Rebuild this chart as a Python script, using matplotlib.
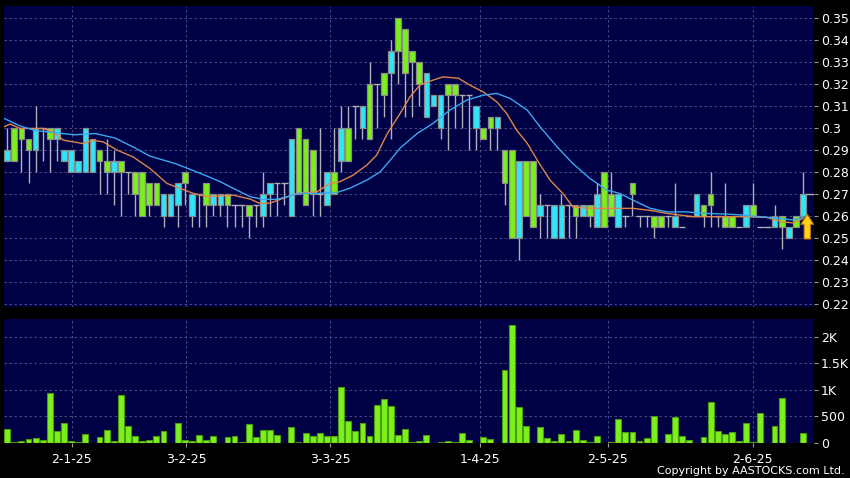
import matplotlib
matplotlib.use("Agg")
import matplotlib.pyplot as plt
from matplotlib.ticker import FuncFormatter

# Candles (one per trading day, in order)
opens = [0.285, 0.30, 0.30, 0.295, 0.29, 0.30, 0.30, 0.295, 0.285, 0.28,
         0.28, 0.28, 0.28, 0.29, 0.285, 0.28, 0.285, 0.28, 0.28, 0.28,
         0.275, 0.275, 0.26, 0.26, 0.265, 0.28, 0.26, 0.27, 0.275, 0.265,
         0.265, 0.27, 0.265, 0.265, 0.265, 0.265, 0.26, 0.27, 0.275, 0.275,
         0.26, 0.30, 0.295, 0.29, 0.27, 0.265, 0.28, 0.285, 0.30, 0.31,
         0.30, 0.32, 0.32, 0.325, 0.325, 0.35, 0.345, 0.335, 0.33, 0.305,
         0.31, 0.30, 0.32, 0.32, 0.315, 0.315, 0.30, 0.30, 0.305, 0.30,
         0.29, 0.29, 0.25, 0.285, 0.285, 0.26, 0.265, 0.25, 0.25, 0.265,
         0.265, 0.26, 0.265, 0.255, 0.28, 0.27, 0.255, 0.26, 0.275, 0.26,
         0.26, 0.26, 0.26, 0.26, 0.255, 0.255, 0.26, 0.26, 0.265, 0.27,
         0.26, 0.26, 0.26, 0.255, 0.255, 0.265, 0.255, 0.255, 0.255, 0.26,
         0.25, 0.26, 0.26]
closes = [0.29, 0.285, 0.295, 0.29, 0.30, 0.30, 0.295, 0.30, 0.29, 0.29,
          0.285, 0.30, 0.295, 0.285, 0.28, 0.285, 0.28, 0.28, 0.27, 0.26,
          0.265, 0.265, 0.27, 0.27, 0.275, 0.275, 0.27, 0.27, 0.265, 0.27,
          0.27, 0.265, 0.265, 0.265, 0.26, 0.265, 0.27, 0.275, 0.275, 0.275,
          0.295, 0.27, 0.265, 0.27, 0.27, 0.28, 0.27, 0.30, 0.285, 0.31,
          0.31, 0.295, 0.32, 0.315, 0.335, 0.335, 0.325, 0.33, 0.32, 0.325,
          0.315, 0.315, 0.315, 0.315, 0.315, 0.315, 0.31, 0.295, 0.30, 0.305,
          0.275, 0.25, 0.285, 0.26, 0.255, 0.265, 0.265, 0.265, 0.265, 0.265,
          0.26, 0.265, 0.26, 0.27, 0.255, 0.26, 0.27, 0.26, 0.27, 0.26,
          0.26, 0.255, 0.255, 0.26, 0.26, 0.255, 0.26, 0.27, 0.26, 0.265,
          0.26, 0.255, 0.255, 0.255, 0.265, 0.26, 0.255, 0.255, 0.26, 0.255,
          0.255, 0.255, 0.27]
highs = [0.30, 0.30, 0.30, 0.295, 0.31, 0.30, 0.30, 0.30, 0.29, 0.29,
         0.285, 0.30, 0.295, 0.29, 0.295, 0.29, 0.285, 0.28, 0.28, 0.28,
         0.275, 0.275, 0.27, 0.27, 0.275, 0.28, 0.27, 0.27, 0.275, 0.27,
         0.27, 0.27, 0.265, 0.265, 0.265, 0.265, 0.28, 0.275, 0.275, 0.275,
         0.295, 0.30, 0.295, 0.29, 0.30, 0.28, 0.30, 0.31, 0.31, 0.31,
         0.31, 0.33, 0.32, 0.325, 0.34, 0.35, 0.345, 0.335, 0.33, 0.325,
         0.315, 0.315, 0.32, 0.32, 0.315, 0.315, 0.31, 0.30, 0.305, 0.305,
         0.29, 0.29, 0.285, 0.285, 0.285, 0.27, 0.265, 0.265, 0.27, 0.265,
         0.265, 0.265, 0.265, 0.275, 0.28, 0.28, 0.27, 0.26, 0.275, 0.26,
         0.26, 0.26, 0.26, 0.26, 0.275, 0.255, 0.26, 0.27, 0.265, 0.28,
         0.26, 0.275, 0.26, 0.255, 0.265, 0.275, 0.255, 0.255, 0.265, 0.26,
         0.255, 0.26, 0.28]
lows = [0.285, 0.285, 0.28, 0.275, 0.28, 0.285, 0.28, 0.285, 0.285, 0.28,
        0.28, 0.28, 0.28, 0.27, 0.27, 0.265, 0.26, 0.27, 0.26, 0.26,
        0.26, 0.265, 0.255, 0.26, 0.255, 0.265, 0.255, 0.255, 0.255, 0.26,
        0.26, 0.255, 0.255, 0.255, 0.25, 0.255, 0.255, 0.26, 0.26, 0.265,
        0.26, 0.27, 0.265, 0.26, 0.26, 0.265, 0.27, 0.28, 0.285, 0.295,
        0.295, 0.295, 0.30, 0.305, 0.295, 0.32, 0.305, 0.305, 0.31, 0.305,
        0.31, 0.295, 0.29, 0.30, 0.30, 0.29, 0.29, 0.295, 0.29, 0.29,
        0.265, 0.25, 0.24, 0.26, 0.255, 0.25, 0.25, 0.25, 0.25, 0.25,
        0.25, 0.26, 0.255, 0.255, 0.255, 0.26, 0.255, 0.255, 0.26, 0.255,
        0.255, 0.25, 0.255, 0.255, 0.255, 0.255, 0.26, 0.26, 0.255, 0.255,
        0.255, 0.255, 0.255, 0.255, 0.255, 0.26, 0.255, 0.255, 0.255, 0.245,
        0.25, 0.255, 0.26]
volumes = [260, 20, 45, 80, 100, 60, 940, 230, 375, 40,
           12, 175, 5, 120, 245, 40, 905, 325, 130, 30,
           50, 130, 230, 0, 375, 50, 30, 155, 60, 135,
           0, 120, 135, 20, 355, 105, 245, 245, 150, 0,
           295, 20, 195, 140, 180, 125, 125, 1055, 420, 220,
           370, 140, 720, 820, 690, 145, 260, 12, 40, 150,
           0, 20, 45, 20, 180, 55, 0, 120, 75, 0,
           1375, 2220, 680, 320, 5, 305, 100, 40, 160, 40,
           250, 60, 10, 125, 0, 20, 450, 210, 210, 40,
           100, 505, 5, 165, 495, 130, 60, 0, 110, 775,
           230, 160, 210, 40, 370, 20, 555, 0, 325, 850,
           0, 0, 190]

# Moving averages: (day index, value)
ma_short_idx = [-0.45, 0.4, 1.8, 5.0, 6.4, 7.9, 10.7, 11.9, 13.5, 15.5,
                17.7, 20.1, 22.5, 24.3, 26.2, 28.1, 31.8, 34.2, 35.6, 37.0,
                38.8, 40.8, 43.6, 45.4, 46.8, 48.7, 50.6, 52.0, 53.5, 55.3,
                56.7, 58.1, 59.9, 61.3, 63.5, 65.1, 67.0, 68.9, 70.3, 71.7,
                73.2, 74.6, 76.4, 78.2, 79.6, 81.6, 83.4, 88.1, 90.9, 92.9,
                96.5, 103.6, 106.9, 109.1, 110.6, 112.0]
ma_short = [0.3006, 0.3019, 0.2999, 0.2999, 0.2984, 0.2946, 0.2930, 0.2946, 0.2938, 0.2900,
            0.2870, 0.2817, 0.2749, 0.2727, 0.2704, 0.2689, 0.2696, 0.2678, 0.2658, 0.2660,
            0.2681, 0.2704, 0.2711, 0.2749, 0.2757, 0.2787, 0.2832, 0.2878, 0.2976, 0.3067,
            0.3143, 0.3196, 0.3218, 0.3233, 0.3227, 0.3196, 0.3165, 0.3120, 0.3067, 0.2991,
            0.2931, 0.2855, 0.2764, 0.2704, 0.2643, 0.2637, 0.2636, 0.2636, 0.2625, 0.2613,
            0.2598, 0.2598, 0.2595, 0.2575, 0.2570, 0.2590]
ma_long_idx = [-0.45, 1.8, 3.9, 7.4, 9.5, 12.4, 15.2, 18.0, 20.1, 23.6,
               27.1, 30.0, 31.8, 34.2, 36.0, 38.0, 39.5, 41.2, 43.6, 46.4,
               48.2, 50.6, 52.5, 54.3, 55.3, 57.7, 59.9, 62.3, 64.7, 67.0,
               68.9, 70.8, 73.2, 75.0, 77.4, 79.6, 82.0, 84.4, 86.2, 88.1,
               90.5, 92.9, 95.7, 97.5, 101.3, 103.6, 106.0, 108.8, 110.6, 112.0]
ma_long = [0.3045, 0.3010, 0.2990, 0.2977, 0.2970, 0.2976, 0.2955, 0.2910, 0.2873, 0.2840,
           0.2796, 0.2757, 0.2727, 0.2689, 0.2677, 0.2677, 0.2690, 0.2704, 0.2704, 0.2708,
           0.2727, 0.2764, 0.2802, 0.2870, 0.2910, 0.2976, 0.3021, 0.3082, 0.3128, 0.3150,
           0.3158, 0.3135, 0.3082, 0.3006, 0.2915, 0.2840, 0.2772, 0.2719, 0.2704, 0.2673,
           0.2636, 0.2620, 0.2620, 0.2614, 0.2610, 0.2605, 0.2598, 0.2590, 0.2583, 0.2595]

# Date labels on the x axis
date_pos = [9.05, 25.2, 45.5, 66.6, 84.5, 104.9]
date_labels = ["2-1-25", "3-2-25", "3-3-25", "1-4-25", "2-5-25", "2-6-25"]

price_ticks = [0.22, 0.23, 0.24, 0.25, 0.26, 0.27, 0.28, 0.29, 0.30,
               0.31, 0.32, 0.33, 0.34, 0.35]
vol_ticks = [0, 500, 1000, 1500, 2000]
vol_tick_labels = ["0", "500", "1K", "1.5K", "2K"]

UP = "#2ee6fa"
DOWN = "#7cf01c"
PANEL = "#000044"
GRID = "#55558a"
WICK = "#b0b0b8"
EDGE = "#8a8a8a"


def style_axes(ax):
    ax.set_facecolor(PANEL)
    for s in ax.spines.values():
        s.set_visible(False)
    ax.yaxis.tick_right()
    ax.tick_params(axis="y", colors="white", labelsize=9, length=3,
                   width=0.8, pad=2, labelcolor="white")
    ax.tick_params(axis="y", color="#9a9a9a")
    ax.set_xlim(-0.45, 113.55)
    ax.set_xticks(date_pos)
    ax.grid(True, color=GRID, linestyle=(0, (3, 3)), linewidth=0.6)
    ax.set_axisbelow(True)


fig = plt.figure(figsize=(8.5, 4.78), dpi=100, facecolor="black")
ax1 = fig.add_axes([4 / 850, 1 - 307 / 478, 810 / 850, 301 / 478])
ax2 = fig.add_axes([4 / 850, 1 - 443 / 478, 810 / 850, 124 / 478])
style_axes(ax1)
style_axes(ax2)

idx = list(range(len(opens)))

# wicks
ax1.vlines(idx, lows, highs, color=WICK, linewidth=1, zorder=2)

# bodies (flat days get just a tick line)
body_x, body_b, body_h, body_c = [], [], [], []
doji_x, doji_y = [], []
for i in idx:
    o, c = opens[i], closes[i]
    if abs(c - o) < 1e-9:
        doji_x.append(i)
        doji_y.append(c)
    else:
        body_x.append(i)
        body_b.append(min(o, c))
        body_h.append(abs(c - o))
        body_c.append(UP if c > o else DOWN)
ax1.bar(body_x, body_h, bottom=body_b, width=0.8, color=body_c,
        edgecolor=EDGE, linewidth=0.9, zorder=3)
ax1.hlines(doji_y, [x - 0.45 for x in doji_x], [x + 0.45 for x in doji_x],
           color=WICK, linewidth=1, zorder=3)

# moving averages
ax1.plot(ma_short_idx, ma_short, color="#e0844a", linewidth=1, zorder=4)
ax1.plot(ma_long_idx, ma_long, color="#3aa8f0", linewidth=1, zorder=4)

# last price marker + arrow
last = len(closes) - 1
ax1.hlines(closes[last], last + 0.4, 113.55, color=WICK, linewidth=1, zorder=4)
ax1.annotate("", xy=(last + 0.6, 0.2609), xytext=(last + 0.6, 0.2497),
             arrowprops=dict(arrowstyle="simple,head_width=1.0,head_length=0.8,tail_width=0.5",
                             mutation_scale=9, shrinkA=0, shrinkB=0,
                             fc="#ffd21a", ec="#c07a00", lw=0.8),
             zorder=5)

ax1.set_ylim(0.2188, 0.3555)
ax1.set_yticks(price_ticks)
ax1.yaxis.set_major_formatter(FuncFormatter(lambda v, p: f"{v:.2f}".rstrip("0").rstrip(".")))
ax1.tick_params(axis="x", length=0, labelbottom=False)

# volume
ax2.bar(idx, volumes, width=0.82, color="#7cf01c", edgecolor="#4c9a10",
        linewidth=0.8, zorder=3)
ax2.set_ylim(0, 2330)
ax2.set_yticks(vol_ticks)
ax2.set_yticklabels(vol_tick_labels)
ax2.set_xticklabels(date_labels)
ax2.tick_params(axis="x", colors="#9a9a9a", length=3, width=0.8, pad=4,
                labelsize=9, labelcolor="white")

fig.text(845 / 850, 1 - 474 / 478, "Copyright by AASTOCKS.com Ltd.",
         color="white", fontsize=8, ha="right", va="baseline")

fig.savefig("out.png", dpi=100, facecolor="black")
